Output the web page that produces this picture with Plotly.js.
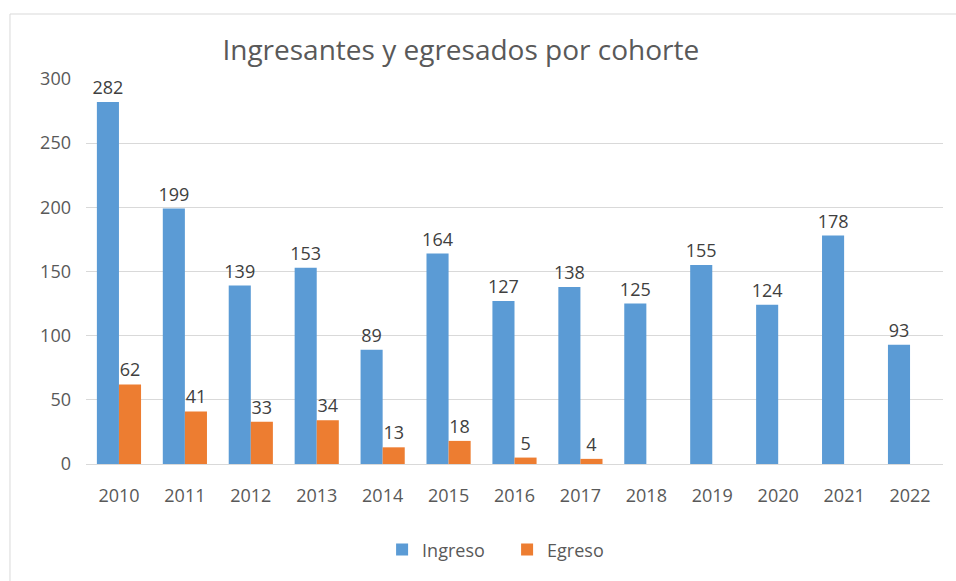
<!DOCTYPE html>
<html>
<head>
<meta charset="utf-8">
<script src="https://cdn.plot.ly/plotly-3.0.1.min.js"></script>
<style>html,body{margin:0;padding:0;background:#fff;}#chart{width:956px;height:581px;}</style>
</head>
<body>
<div id="chart"></div>
<script>
const years = ['2010','2011','2012','2013','2014','2015','2016','2017','2018','2019','2020','2021','2022'];
const ingreso = [282,199,139,153,89,164,127,138,125,155,124,178,93];
const egresoYears = ['2010','2011','2012','2013','2014','2015','2016','2017'];
const egreso = [62,41,33,34,13,18,5,4];
const yTicks = [0,50,100,150,200,250,300];

const FONT = '"Open Sans", sans-serif';
const traces = [
  {type:'bar', name:'Ingreso', x:years, y:ingreso, marker:{color:'#5B9BD5'},
   text:ingreso.map(String), textposition:'outside', cliponaxis:false, constraintext:'none',
   textfont:{family:FONT, size:18, color:'#404040'}},
  {type:'bar', name:'Egreso', x:egresoYears, y:egreso, marker:{color:'#ED7D31'},
   text:egreso.map(String), textposition:'outside', cliponaxis:false, constraintext:'none',
   textfont:{family:FONT, size:18, color:'#404040'}}
];
const layout = {
  width:956, height:581,
  margin:{l:86, r:13, t:79, b:117},
  paper_bgcolor:'#fff', plot_bgcolor:'#fff',
  font:{family:FONT, color:'#595959', size:18},
  title:{text:'Ingresantes y egresados por cohorte', font:{family:FONT, size:28, color:'#595959'},
         xref:'container', yref:'container', x:0.482, y:0.914, xanchor:'center', yanchor:'middle'},
  barmode:'group', bargap:0.33, bargroupgap:0,
  xaxis:{type:'category', categoryorder:'array', categoryarray:years, showgrid:false, showline:true,
         linecolor:'#d9d9d9', linewidth:1, ticks:'', ticklabelstandoff:15,
         tickfont:{family:FONT, size:18, color:'#595959'}},
  yaxis:{range:[0,300], tickvals:yTicks, ticktext:yTicks.map(String), showgrid:true, gridcolor:'#d9d9d9',
         zeroline:false, showline:false, ticks:'', ticklabelstandoff:14,
         tickfont:{family:FONT, size:18, color:'#595959'}},
  showlegend:true,
  legend:{orientation:'h', x:0.3455, y:-0.223, xanchor:'left', yanchor:'middle',
          font:{family:FONT, size:18, color:'#595959'}, itemwidth:30, tracegroupgap:0,
          entrywidth:80, entrywidthmode:'pixels'},
  shapes:[{type:'rect', xref:'paper', yref:'paper', x0:-0.0887, x1:1.03, y0:-0.35, y1:1.1688,
           line:{color:'#d9d9d9', width:1}, fillcolor:'rgba(0,0,0,0)', layer:'below'}]
};
Plotly.newPlot('chart', traces, layout, {displayModeBar:false, staticPlot:true});
</script>
</body>
</html>
